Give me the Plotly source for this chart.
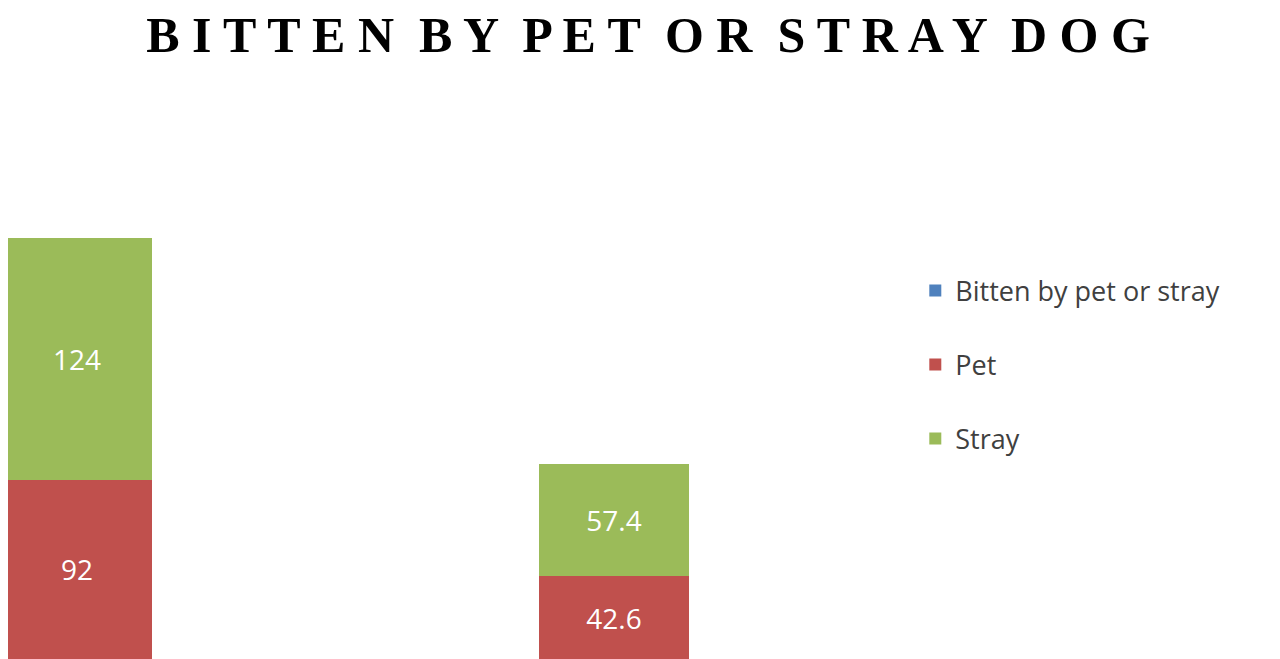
import plotly.graph_objects as go

categories = ["Number", "Percentage"]
bitten = [0, 0]
pet = [92, 42.6]
stray = [124, 57.4]

fig = go.Figure()
fig.add_trace(go.Bar(x=categories, y=bitten, name="Bitten by pet or stray",
                     marker_color="#4F81BD", width=0.279, legendgroup="b"))
fig.add_trace(go.Bar(x=categories, y=pet, name="Pet", marker_color="#C0504D",
                     text=[str(v) for v in pet], width=0.279, legendgroup="p"))
fig.add_trace(go.Bar(x=categories, y=stray, name="Stray", marker_color="#9BBB59",
                     text=[str(v) for v in stray], width=0.279, legendgroup="s"))

fig.update_traces(textposition="inside", insidetextanchor="middle",
                  textfont=dict(color="white", size=28, family="Open Sans"),
                  marker_line_width=0, textangle=0)

fig.update_layout(
    barmode="stack",
    width=1280, height=659,
    paper_bgcolor="white", plot_bgcolor="white",
    margin=dict(l=0, r=420, t=96, b=8),
    title=dict(text="<b>B I T T E N  B Y  P E T  O R  S T R A Y  D O G</b>",
               x=0.5, xanchor="center", y=0.96, yanchor="middle",
               font=dict(family="Liberation Serif", size=50, color="black")),
    xaxis=dict(visible=False, range=[-0.1285, 1.473]),
    yaxis=dict(visible=False, range=[0, 285]),
    legend=dict(x=1.055, xanchor="left", y=0.53, yanchor="middle",
                traceorder="reversed+grouped", tracegroupgap=36,
                font=dict(family="Open Sans", size=27, color="#404040"),
                itemwidth=30),
    uniformtext=dict(minsize=20, mode="show"),
)

fig.write_html("out.html")
